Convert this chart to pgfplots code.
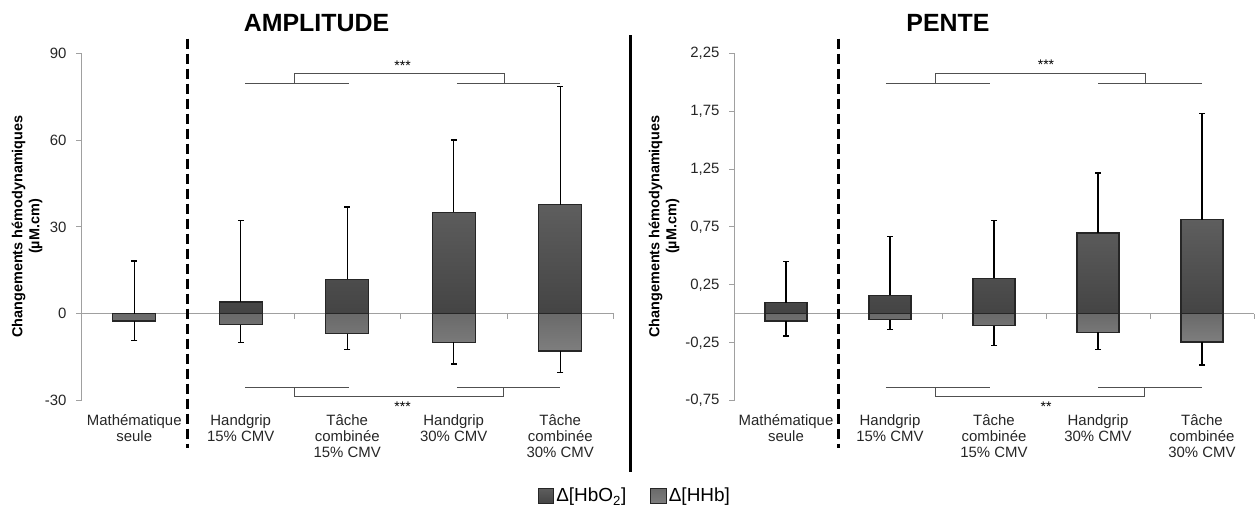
\documentclass[border=0pt]{standalone}
\usepackage{fontspec}
\setmainfont{Liberation Sans}
\usepackage{pgfplots}
\pgfplotsset{compat=1.18}
\usepackage{pgfplotstable}

\definecolor{hbtop}{HTML}{5E5E5E}
\definecolor{hbbot}{HTML}{444444}
\definecolor{hhtop}{HTML}{6A6A6A}
\definecolor{hhbot}{HTML}{7E7E7E}
\definecolor{axgray}{HTML}{A0A0A0}
\definecolor{brk}{HTML}{505050}

\pgfplotstableread{
x hbo hboe hhb hhbe
0 0 18.3 -2.5 6.8
1 4.1 28.1 -3.8 6.0
2 11.9 25.0 -6.8 5.5
3 35.1 25.0 -9.8 7.5
4 37.7 40.9 -12.8 7.5
}\ampdata

\pgfplotstableread{
x hbo hboe hhb hhbe
0 0.095 0.355 -0.063 0.127
1 0.159 0.508 -0.050 0.084
2 0.308 0.497 -0.103 0.169
3 0.698 0.518 -0.161 0.146
4 0.814 0.914 -0.244 0.198
}\pentedata

\pgfplotsset{
  panel/.style={
    scale only axis, height=347.4bp,
    xmin=-0.5, xmax=4.5,
    axis x line*=bottom, axis y line*=left,
    x axis line style={draw=none},
    y axis line style={draw=axgray, line width=1bp, -},
    xtick={0,...,4},
    xticklabels={{Mathématique\\seule},{Handgrip\\15\% CMV},{Tâche\\combinée\\15\% CMV},{Handgrip\\30\% CMV},{Tâche\\combinée\\30\% CMV}},
    xtick style={draw=none},
    xticklabel style={align=center, font=\fontsize{15}{16.5}\selectfont, anchor=north, text=black!85, yshift=-5bp},
    ytick style={draw=axgray, line width=1bp},
    tick align=outside, major tick length=5bp,
    yticklabel style={font=\fontsize{15}{17}\selectfont, text=black!85, xshift=-6bp},
    /pgf/number format/assume math mode=true,
    clip=false,
  },
  hhbbar/.style={ybar, bar width=#1, bar shift=0pt, draw=black!85, line width=1.3bp, top color=hhtop, bottom color=hhbot, forget plot},
  hbobar/.style={ybar, bar width=#1, bar shift=0pt, draw=black!85, line width=1.3bp, top color=hbtop, bottom color=hbbot, forget plot},
  whisk/.style={draw=none, mark=none, forget plot,
    error bars/.cd, y dir=#1, y explicit,
    error bar style={draw=black, solid, line width=1.3bp},
    error mark options={draw=black, solid, rotate=90, mark size=3bp, line width=1.3bp}},
  brk/.style={draw=brk, line width=1.5bp},
}

\begin{document}
\begin{tikzpicture}
\useasboundingbox (0,0) rectangle (1255bp,509bp);

% ---------------- AMPLITUDE ----------------
\begin{axis}[panel, at={(81bp,108.3bp)}, anchor=south west, width=532.5bp,
  ymin=-30, ymax=90, ytick={-30,0,30,60,90},
  legend style={at={(axis description cs:1.040,-0.274)}, anchor=center, draw=none, fill=none,
    legend columns=2, font=\fontsize{19}{22}\selectfont,
    /tikz/every even column/.append style={column sep=22bp}},
  legend cell align=left]
\addlegendimage{legend image code/.code={\draw[draw=black!85, line width=1bp, top color=hbtop, bottom color=hbbot] (0bp,-7.8bp) rectangle (15.6bp,7.8bp);}}
\addlegendentry{Δ[HbO\textsubscript{2}]}
\addlegendimage{legend image code/.code={\draw[draw=black!85, line width=1bp, top color=hhtop, bottom color=hhbot] (0bp,-7.8bp) rectangle (15.6bp,7.8bp);}}
\addlegendentry{Δ[HHb]}

\draw[axgray, line width=1bp] (axis cs:-0.5,0) -- (axis cs:4.5,0);
\draw[axgray, line width=1bp] (axis cs:1.5,0) -- ++(0pt,-5bp);
\draw[axgray, line width=1bp] (axis cs:2.5,0) -- ++(0pt,-5bp);
\draw[axgray, line width=1bp] (axis cs:3.5,0) -- ++(0pt,-5bp);
\draw[axgray, line width=1bp] (axis cs:4.5,0) -- ++(0pt,-5bp);

\addplot[hhbbar=43bp] table[x=x, y=hhb] \ampdata;
\addplot[hbobar=43bp] table[x=x, y=hbo] \ampdata;
\addplot[whisk=plus] table[x=x, y=hbo, y error plus=hboe] \ampdata;
\addplot[whisk=minus] table[x=x, y=hhb, y error minus=hhbe] \ampdata;

\draw[black, line width=3bp, dash pattern=on 10bp off 5bp] (axis cs:0.5,95.1) -- (axis cs:0.5,-46.3);

\draw[brk] (axis cs:1.04,79.7) -- (axis cs:2.02,79.7);
\draw[brk] (axis cs:3.03,79.7) -- (axis cs:4.0,79.7);
\draw[brk] (axis cs:1.5,79.7) -- (axis cs:1.5,83.1) -- (axis cs:3.47,83.1) -- (axis cs:3.47,79.7);
\node[font=\fontsize{14}{16}\selectfont, anchor=base] at (axis cs:2.52,84.2) {***};

\draw[brk] (axis cs:1.04,-25.4) -- (axis cs:2.02,-25.4);
\draw[brk] (axis cs:3.03,-25.4) -- (axis cs:4.0,-25.4);
\draw[brk] (axis cs:1.5,-25.4) -- (axis cs:1.5,-28.4) -- (axis cs:3.46,-28.4) -- (axis cs:3.46,-25.4);
\node[font=\fontsize{14}{16}\selectfont, anchor=base] at (axis cs:2.52,-33.9) {***};
\end{axis}

% ---------------- PENTE ----------------
\begin{axis}[panel, at={(734bp,108.3bp)}, anchor=south west, width=520bp,
  ymin=-0.75, ymax=2.25, ytick={-0.75,-0.25,0.25,0.75,1.25,1.75,2.25},
  yticklabel style={/pgf/number format/.cd, use comma, fixed, fixed zerofill, precision=2}]
\draw[axgray, line width=1bp] (axis cs:-0.5,0) -- (axis cs:4.5,0);
\draw[axgray, line width=1bp] (axis cs:1.5,0) -- ++(0pt,-5bp);
\draw[axgray, line width=1bp] (axis cs:2.5,0) -- ++(0pt,-5bp);
\draw[axgray, line width=1bp] (axis cs:3.5,0) -- ++(0pt,-5bp);
\draw[axgray, line width=1bp] (axis cs:4.5,0) -- ++(0pt,-5bp);

\addplot[hhbbar=42bp] table[x=x, y=hhb] \pentedata;
\addplot[hbobar=42bp] table[x=x, y=hbo] \pentedata;
\addplot[whisk=plus] table[x=x, y=hbo, y error plus=hboe] \pentedata;
\addplot[whisk=minus] table[x=x, y=hhb, y error minus=hhbe] \pentedata;

\draw[black, line width=3bp, dash pattern=on 10bp off 5bp] (axis cs:0.5,2.377) -- (axis cs:0.5,-1.158);

\draw[brk] (axis cs:0.96,1.991) -- (axis cs:1.96,1.991);
\draw[brk] (axis cs:3.0,1.991) -- (axis cs:4.0,1.991);
\draw[brk] (axis cs:1.43,1.991) -- (axis cs:1.43,2.078) -- (axis cs:3.45,2.078) -- (axis cs:3.45,1.991);
\node[font=\fontsize{14}{16}\selectfont, anchor=base] at (axis cs:2.5,2.106) {***};

\draw[brk] (axis cs:0.96,-0.634) -- (axis cs:1.96,-0.634);
\draw[brk] (axis cs:3.0,-0.634) -- (axis cs:4.0,-0.634);
\draw[brk] (axis cs:1.43,-0.634) -- (axis cs:1.43,-0.709) -- (axis cs:3.44,-0.709) -- (axis cs:3.44,-0.634);
\node[font=\fontsize{14}{16}\selectfont, anchor=base] at (axis cs:2.5,-0.847) {**};
\end{axis}

% separator, titles, y labels
\draw[black, line width=3bp] (630bp,37bp) -- (630bp,474bp);
\node[font=\bfseries\fontsize{25}{30}\selectfont, anchor=base] at (316.5bp,477bp) {AMPLITUDE};
\node[font=\bfseries\fontsize{25}{30}\selectfont, anchor=base] at (948bp,477bp) {PENTE};
\node[rotate=90, align=center, font=\bfseries\fontsize{14.5}{17}\selectfont] at (27bp,282.5bp) {Changements hémodynamiques\\(µM.cm)};
\node[rotate=90, align=center, font=\bfseries\fontsize{14.5}{17}\selectfont] at (664bp,282.5bp) {Changements hémodynamiques\\(µM.cm)};
\end{tikzpicture}
\end{document}
